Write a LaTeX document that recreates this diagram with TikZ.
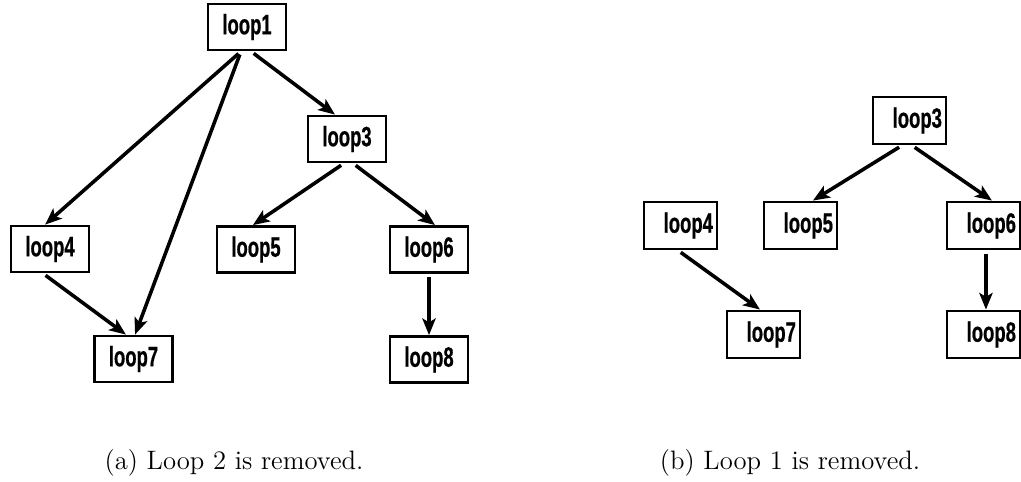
\documentclass[tikz,border=0pt]{standalone}
\usepackage{fontspec}
\newfontfamily\loopfont[FakeStretch=0.66,FakeBold=0.6]{Liberation Sans}
\usetikzlibrary{arrows.meta}

\begin{document}
\begin{tikzpicture}[
  x=0.45pt, y=-0.45pt,
  font=\loopfont\bfseries\fontsize{12.6}{14}\selectfont,
  box/.style={
    draw=black,
    line width=1.25pt,
    inner sep=0pt,
    minimum width=35.1pt,
    minimum height=20.7pt
  },
  rbox/.style={box, minimum width=32.9pt, minimum height=21.2pt,
    execute at begin node=\hspace*{7pt}},
  arrow/.style={-{Stealth[length=7.5pt, width=6pt, inset=1.8pt]},
    line width=1.6pt, shorten <=1.5pt},
  caption/.style={font=\fontsize{12}{14}\selectfont, anchor=base}
]
\useasboundingbox (0,0) rectangle (1021,481);

% (a) loop 2 removed
\node[box] (a1) at (247,27) {loop1};
\node[box] (a3) at (347,139) {loop3};
\node[box] (a4) at (50,249) {loop4};
\node[box] (a5) at (256,249.5) {loop5};
\node[box] (a6) at (429,249.5) {loop6};
\node[box] (a7) at (133.5,359) {loop7};
\node[box] (a8) at (429,359.5) {loop8};

\draw[arrow] ([xshift=-2.7pt]a1.south) -- ([xshift=-2.2pt]a4.north);
\draw[arrow] ([xshift=-2.7pt]a1.south) -- ([xshift=0.7pt]a7.north);
\draw[arrow] ([xshift=1.8pt]a1.south) -- ([xshift=-5.4pt]a3.north);
\draw[arrow] ([xshift=-3.2pt]a4.south) -- ([xshift=-3.4pt]a7.north);
\draw[arrow] ([xshift=-1.4pt]a3.south) -- ([xshift=-1.4pt]a5.north);
\draw[arrow] ([xshift=2.7pt]a3.south) -- ([xshift=2.7pt]a6.north);
\draw[arrow] (a6.south) -- (a8.north);

% (b) loop 1 removed
\node[rbox] (b3) at (909.5,120.5) {loop3};
\node[rbox] (b4) at (680.5,225.5) {loop4};
\node[rbox] (b5) at (800.5,225.5) {loop5};
\node[rbox] (b6) at (983.5,225.5) {loop6};
\node[rbox] (b7) at (763.5,334.5) {loop7};
\node[rbox] (b8) at (983.5,334.5) {loop8};

\draw[arrow] ([xshift=-3.4pt]b3.south) -- ([xshift=5.6pt]b5.north);
\draw[arrow] ([xshift=1.1pt]b3.south) -- ([xshift=3.8pt]b6.north);
\draw[arrow] ([xshift=-1.1pt]b4.south) -- ([xshift=-1.6pt]b7.north);
\draw[arrow] ([xshift=1.1pt]b6.south) -- ([xshift=1.1pt]b8.north);

\node[caption] (capa) at (234,469) {(a) Loop 2 is removed.};
\node[caption] (capb) at (790,469) {(b) Loop 1 is removed.};
\end{tikzpicture}
\end{document}
